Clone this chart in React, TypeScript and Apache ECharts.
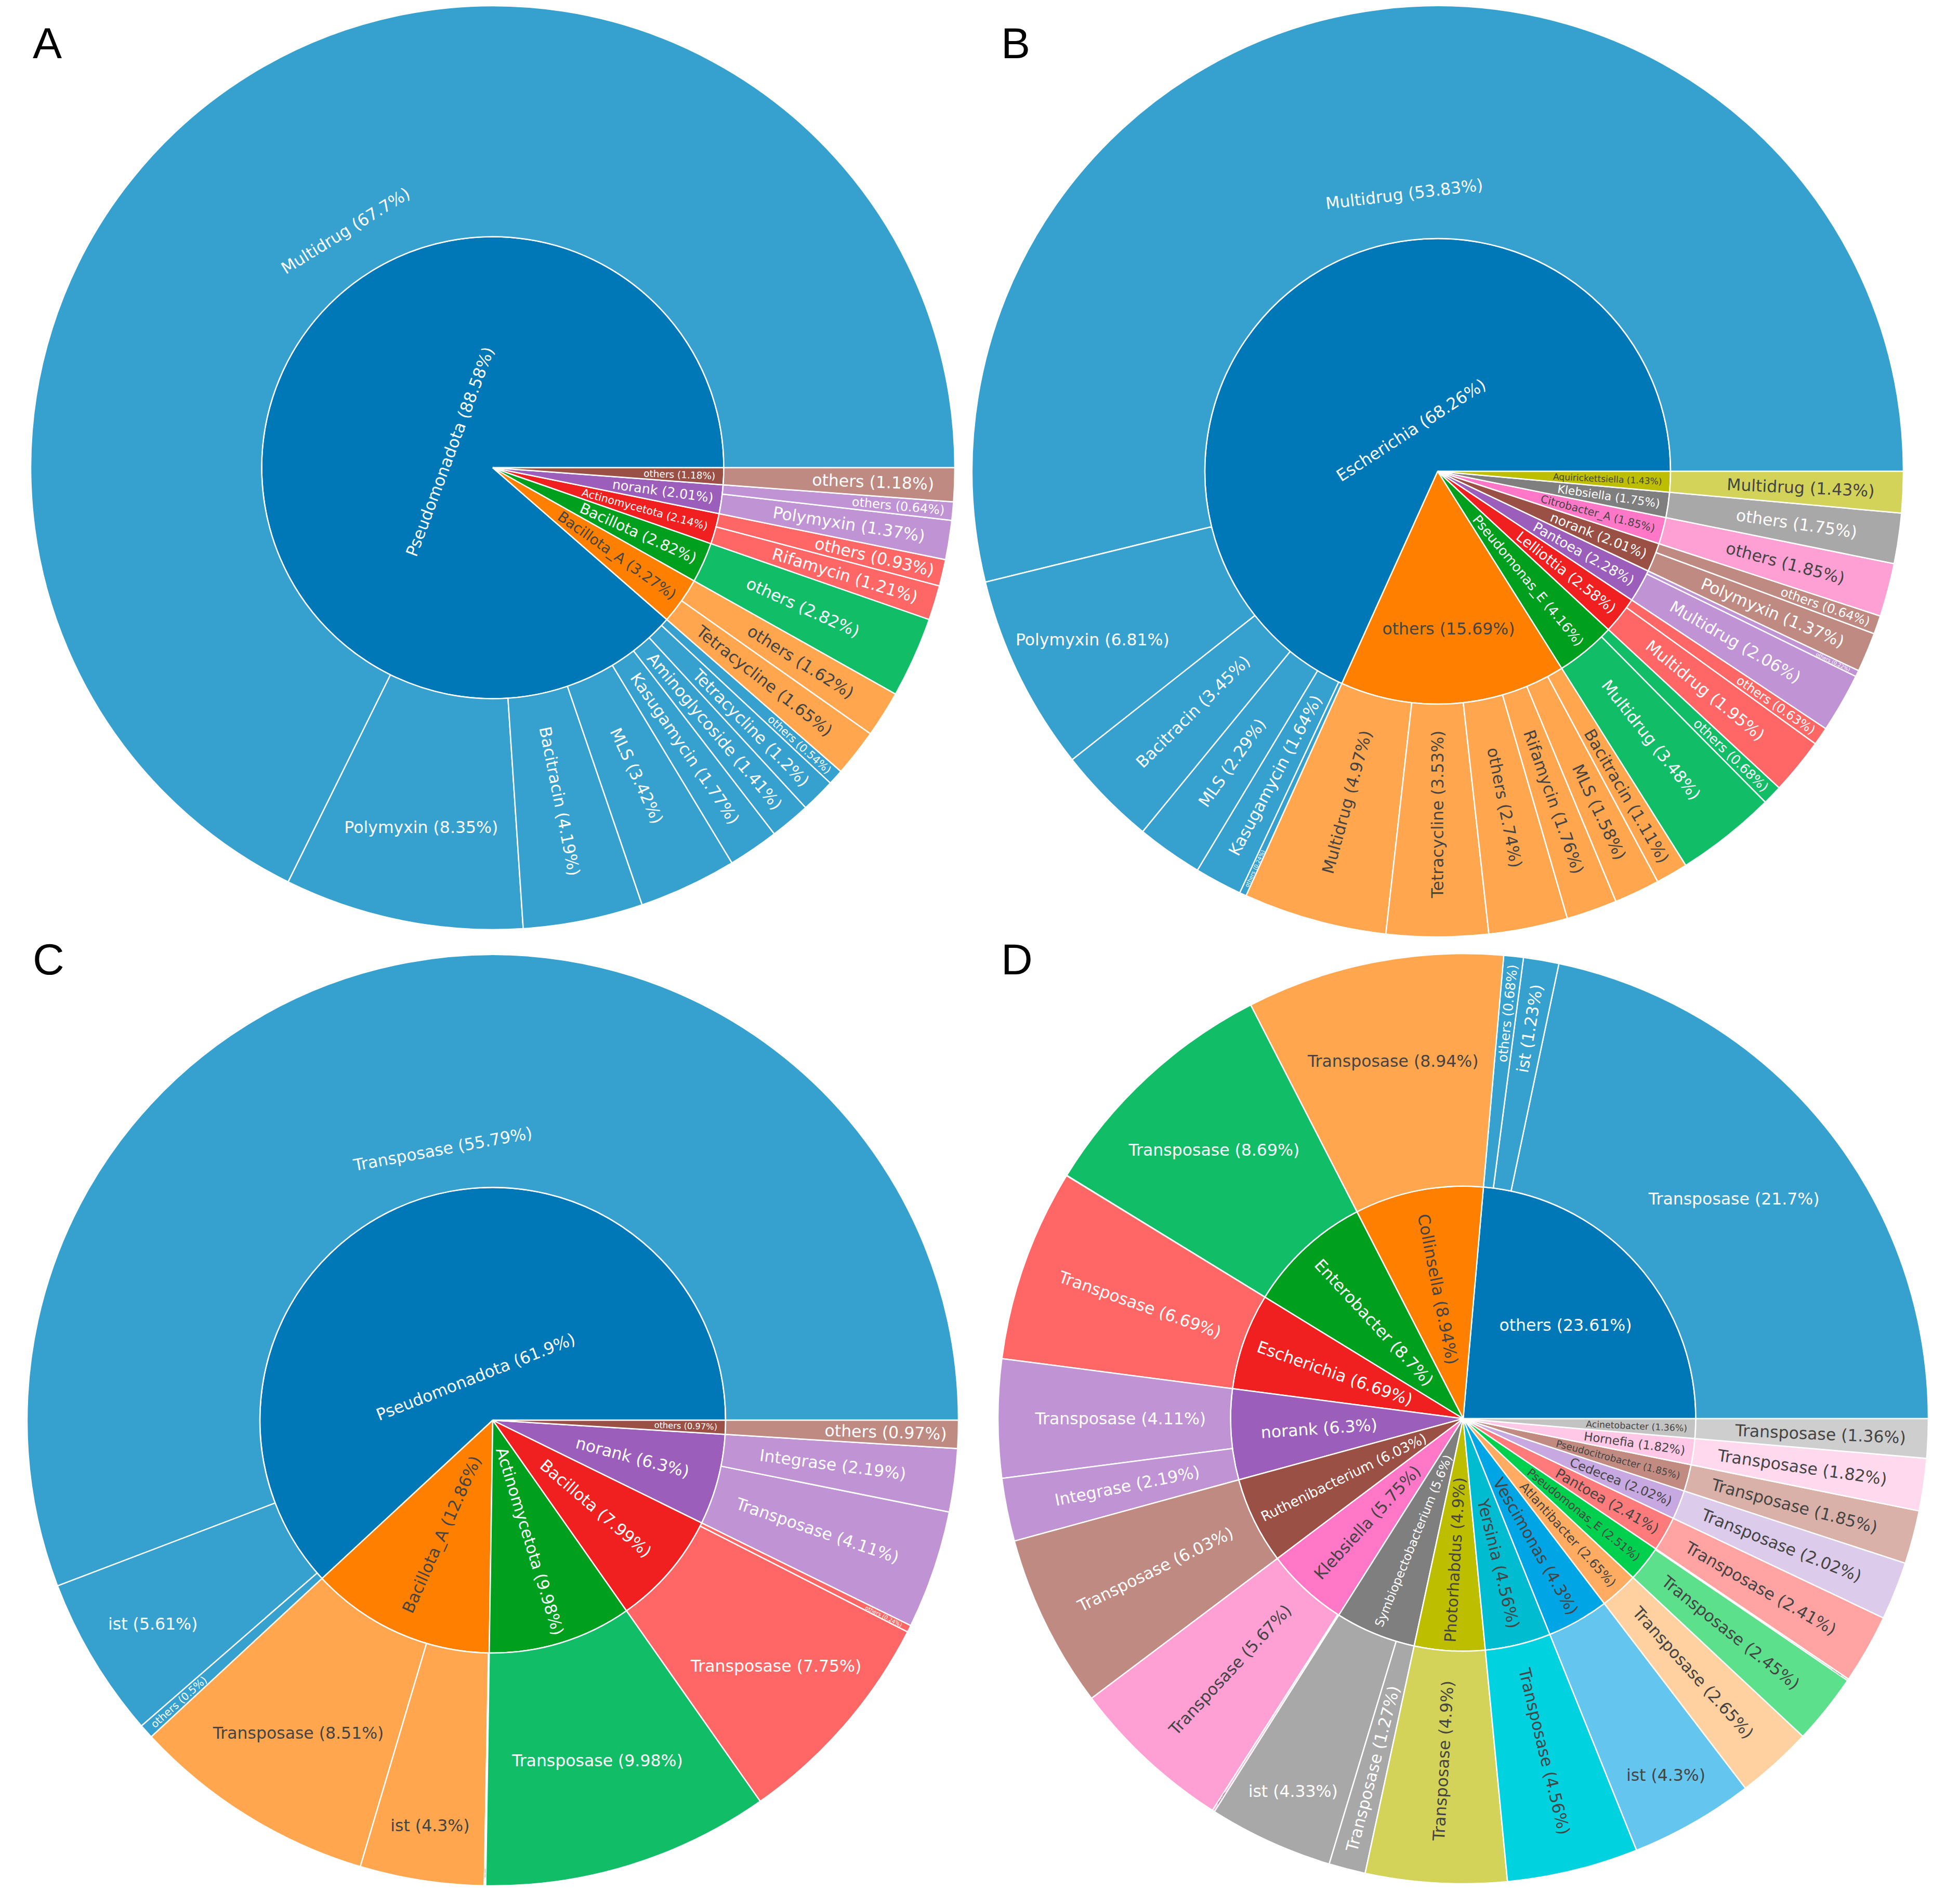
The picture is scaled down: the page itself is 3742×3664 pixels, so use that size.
import React, { useEffect, useRef } from 'react';
import * as echarts from 'echarts';

// ---------------- DATA ----------------
// Panel A
const A_inner = ['Pseudomonadota', 'Bacillota_A', 'Bacillota', 'Actinomycetota', 'norank', 'others'];
const A_innerPct = [88.58, 3.27, 2.82, 2.14, 2.01, 1.18];
const A_outer = [
  ['Multidrug', 'Polymyxin', 'Bacitracin', 'MLS', 'Kasugamycin', 'Aminoglycoside', 'Tetracycline', 'others'],
  ['Tetracycline', 'others'],
  ['others'],
  ['Rifamycin', 'others'],
  ['Polymyxin', 'others'],
  ['others'],
];
const A_outerPct = [
  [67.7, 8.35, 4.19, 3.42, 1.77, 1.41, 1.2, 0.54],
  [1.65, 1.62],
  [2.82],
  [1.21, 0.93],
  [1.37, 0.64],
  [1.18],
];

// Panel B
const B_inner = ['Escherichia', 'others', 'Pseudomonas_E', 'Lelliottia', 'Pantoea', 'norank', 'Citrobacter_A', 'Klebsiella', 'Aquirickettsiella'];
const B_innerPct = [68.26, 15.69, 4.16, 2.58, 2.28, 2.01, 1.85, 1.75, 1.43];
const B_outer = [
  ['Multidrug', 'Polymyxin', 'Bacitracin', 'MLS', 'Kasugamycin', 'others'],
  ['Multidrug', 'Tetracycline', 'others', 'Rifamycin', 'MLS', 'Bacitracin'],
  ['Multidrug', 'others'],
  ['Multidrug', 'others'],
  ['Multidrug', 'others'],
  ['Polymyxin', 'others'],
  ['others'],
  ['others'],
  ['Multidrug'],
];
const B_outerPct = [
  [53.83, 6.81, 3.45, 2.29, 1.64, 0.24],
  [4.97, 3.53, 2.74, 1.76, 1.58, 1.11],
  [3.48, 0.68],
  [1.95, 0.63],
  [2.06, 0.22],
  [1.37, 0.64],
  [1.85],
  [1.75],
  [1.43],
];

// Panel C
const C_inner = ['Pseudomonadota', 'Bacillota_A', 'Actinomycetota', 'Bacillota', 'norank', 'others'];
const C_innerPct = [61.9, 12.86, 9.98, 7.99, 6.3, 0.97];
const C_outer = [
  ['Transposase', 'ist', 'others'],
  ['Transposase', 'ist', 'others'],
  ['Transposase'],
  ['Transposase', 'others'],
  ['Transposase', 'Integrase'],
  ['others'],
];
const C_outerPct = [
  [55.79, 5.61, 0.5],
  [8.51, 4.3, 0.05],
  [9.98],
  [7.75, 0.24],
  [4.11, 2.19],
  [0.97],
];

// Panel D
const D_inner = ['others', 'Collinsella', 'Enterobacter', 'Escherichia', 'norank', 'Ruthenibacterium', 'Klebsiella',
  'Symbiopectobacterium', 'Photorhabdus', 'Yersinia', 'Vescimonas', 'Atlantibacter', 'Pseudomonas_E', 'Pantoea',
  'Cedecea', 'Pseudocitrobacter', 'Hornefia', 'Acinetobacter'];
const D_innerPct = [23.61, 8.94, 8.7, 6.69, 6.3, 6.03, 5.75, 5.6, 4.9, 4.56, 4.3, 2.65, 2.51, 2.41, 2.02, 1.85, 1.82, 1.36];
const D_outer = [
  ['Transposase', 'ist', 'others'],
  ['Transposase'],
  ['Transposase', 'others'],
  ['Transposase'],
  ['Transposase', 'Integrase'],
  ['Transposase'],
  ['Transposase', 'others'],
  ['ist', 'Transposase'],
  ['Transposase'],
  ['Transposase'],
  ['ist'],
  ['Transposase'],
  ['Transposase', 'others'],
  ['Transposase'],
  ['Transposase'],
  ['Transposase'],
  ['Transposase'],
  ['Transposase'],
];
const D_outerPct = [
  [21.7, 1.23, 0.68],
  [8.94],
  [8.69, 0.01],
  [6.69],
  [4.11, 2.19],
  [6.03],
  [5.67, 0.08],
  [4.33, 1.27],
  [4.9],
  [4.56],
  [4.3],
  [2.65],
  [2.45, 0.06],
  [2.41],
  [2.02],
  [1.85],
  [1.82],
  [1.36],
];

// ---------------- STYLE ----------------
const PAL = ['#0077b6', '#ff8000', '#00a01e', '#f02020', '#9b5fbb', '#9b5046', '#ff77c6', '#7f7f7f', '#bebe00', '#00bcd0',
  '#00a5e5', '#ffab62', '#00d04e', '#ff7a7a', '#c8a8e0', '#c28b82', '#ffc8e6', '#c3c3c3'];
const PAL_LIGHT = ['#36a1cf', '#ffa64f', '#12bd68', '#ff6767', '#c093d4', '#be8a81', '#ffa0d5', '#a8a8a8', '#d3d35a', '#00d2e0',
  '#64c5ee', '#ffd0a0', '#5ce08c', '#ffa3a3', '#dccbea', '#d9b1a9', '#ffdaee', '#cecece'];
const DARK_TEXT = [1, 6, 8, 9, 10, 11, 12, 13, 14, 15, 16, 17];

const PW = 3742;
const PH = 3664;
const F = 31.5;
const TEXTPAD = 7.9;
const LH = 1.164;
const FONT = 'DejaVu Sans';

const PANELS = [
  { letter: 'A', inner: A_inner, innerPct: A_innerPct, outer: A_outer, outerPct: A_outerPct, cx: 948, cy: 900, R: 889, lx: 63, ly: 83 },
  { letter: 'B', inner: B_inner, innerPct: B_innerPct, outer: B_outer, outerPct: B_outerPct, cx: 2766, cy: 907, R: 896, lx: 1926, ly: 83 },
  { letter: 'C', inner: C_inner, innerPct: C_innerPct, outer: C_outer, outerPct: C_outerPct, cx: 948, cy: 2733, R: 896, lx: 63, ly: 1846 },
  { letter: 'D', inner: D_inner, innerPct: D_innerPct, outer: D_outer, outerPct: D_outerPct, cx: 2815, cy: 2730, R: 895, lx: 1926, ly: 1846 },
];

let _ctx: CanvasRenderingContext2D | null = null;
function textWidth(t: string) {
  if (!_ctx) _ctx = document.createElement('canvas').getContext('2d');
  _ctx!.font = `${F}px "${FONT}"`;
  return _ctx!.measureText(t).width;
}
const mod = (x: number, m: number) => ((x % m) + m) % m;

function maxHalf(a: number, half: number, r: number, ring: number) {
  const q = a + 1 / (2 * Math.tan(half));
  return r * Math.min(1 / (Math.sqrt(q * q + 0.5) + q), ring / (Math.sqrt(a * a + ring / 2) + a));
}

// label placement similar to an auto inside-text orientation
function makeLabel(text: string, a0: number, a1: number, rp0: number, rp1: number, color: string) {
  const w = textWidth(text);
  const h = LH * F;
  const d = a1 - a0;
  if (d <= 0) return { show: false };
  const half = 0.5 * Math.min(d, Math.PI);
  const ring = 1 - rp0 / rp1;
  const mid = (a0 + a1) / 2;
  const midDeg = (mid * 180) / Math.PI;
  const rIns = Math.max(0, Math.min(1 / (1 + 1 / Math.sin(half)), ring / 2));
  const hor = { scale: (rIns * rp1 * 2) / Math.hypot(w, h), rc: (1 - rIns) * rp1, rot: 0 };
  const r = Math.max(0, rp1 - 2 * TEXTPAD);
  let s = maxHalf(w / h, half, r, ring);
  const rad = { scale: (2 * s) / h, rc: (Math.cos(s / r) - ((w / h) * s) / r) * r, rot: mod(midDeg + 90, 180) - 90 };
  s = maxHalf(h / w, half, r, ring);
  const tan = { scale: (2 * s) / w, rc: (Math.cos(s / r) - ((h / w) * s) / r) * r, rot: mod(midDeg, 180) - 90 };
  let t;
  if (d < Math.PI && hor.scale >= 1) t = hor;
  else t = tan.scale > rad.scale ? tan : rad;

  const rmid = (rp0 + rp1) / 2;
  const dr = t.rc - rmid;
  const rho = (t.rot * Math.PI) / 180;
  const dx = dr * Math.cos(mid - rho);
  const dy = dr * Math.sin(rho - mid);
  return {
    show: true,
    position: 'inside',
    formatter: text,
    rotate: t.rot,
    align: 'center',
    verticalAlign: dy >= 0 ? 'top' : 'bottom',
    lineHeight: Math.max(0.2, 2 * Math.abs(dy)),
    padding: [0, dx < 0 ? -2 * dx : 0, 0, dx > 0 ? 2 * dx : 0],
    distance: 0,
    fontSize: Math.max(0.5, F * Math.min(1, t.scale)),
    fontFamily: FONT,
    color,
  };
}

function buildSeries(p: any) {
  const total = p.innerPct.reduce((a: number, b: number) => a + b, 0);
  const rIn = p.R / 2;
  const TWO_PI = Math.PI * 2;
  let acc = 0;
  const data = p.inner.map((name: string, i: number) => {
    const v = p.innerPct[i];
    const a0 = (acc / total) * TWO_PI;
    const a1 = ((acc + v) / total) * TWO_PI;
    const tc = DARK_TEXT.includes(i) ? '#444' : '#ffffff';
    let cacc = acc;
    const children = p.outer[i].map((cn: string, j: number) => {
      const cv = p.outerPct[i][j];
      const b0 = (cacc / total) * TWO_PI;
      cacc += cv;
      const b1 = (cacc / total) * TWO_PI;
      return {
        name: cn,
        value: cv,
        itemStyle: { color: PAL_LIGHT[i] },
        label: makeLabel(`${cn} (${cv}%)`, b0, b1, rIn, p.R, tc),
      };
    });
    acc += v;
    return {
      name,
      value: v,
      itemStyle: { color: PAL[i] },
      label: makeLabel(`${name} (${v}%)`, a0, a1, 0, rIn, tc),
      children,
    };
  });
  return {
    type: 'sunburst',
    center: [p.cx, p.cy],
    radius: [0, p.R],
    startAngle: 0,
    clockwise: false,
    sort: null,
    nodeClick: false,
    emphasis: { focus: 'none' },
    levels: [{}, { r0: 0, r: rIn }, { r0: rIn, r: p.R }],
    itemStyle: { borderColor: '#ffffff', borderWidth: 2.5 },
    label: { fontFamily: FONT },
    data,
  };
}

function buildOption() {
  return {
    animation: false,
    backgroundColor: '#ffffff',
    series: PANELS.map(buildSeries),
    graphic: PANELS.map((p) => ({
      type: 'text',
      x: p.lx,
      y: p.ly,
      style: {
        text: p.letter,
        font: '84px "Liberation Sans", Arial, sans-serif',
        fill: '#000000',
        align: 'left',
        verticalAlign: 'middle',
      },
    })),
  };
}

export default function App() {
  const ref = useRef<HTMLDivElement>(null);
  useEffect(() => {
    const chart = echarts.init(ref.current as HTMLDivElement, null, { renderer: 'svg', width: PW, height: PH });
    chart.setOption(buildOption() as any);
    return () => chart.dispose();
  }, []);
  return (
    <div
      ref={ref}
      style={{ position: 'absolute', left: 0, top: 0, width: PW, height: PH, background: '#ffffff' }}
    />
  );
}
